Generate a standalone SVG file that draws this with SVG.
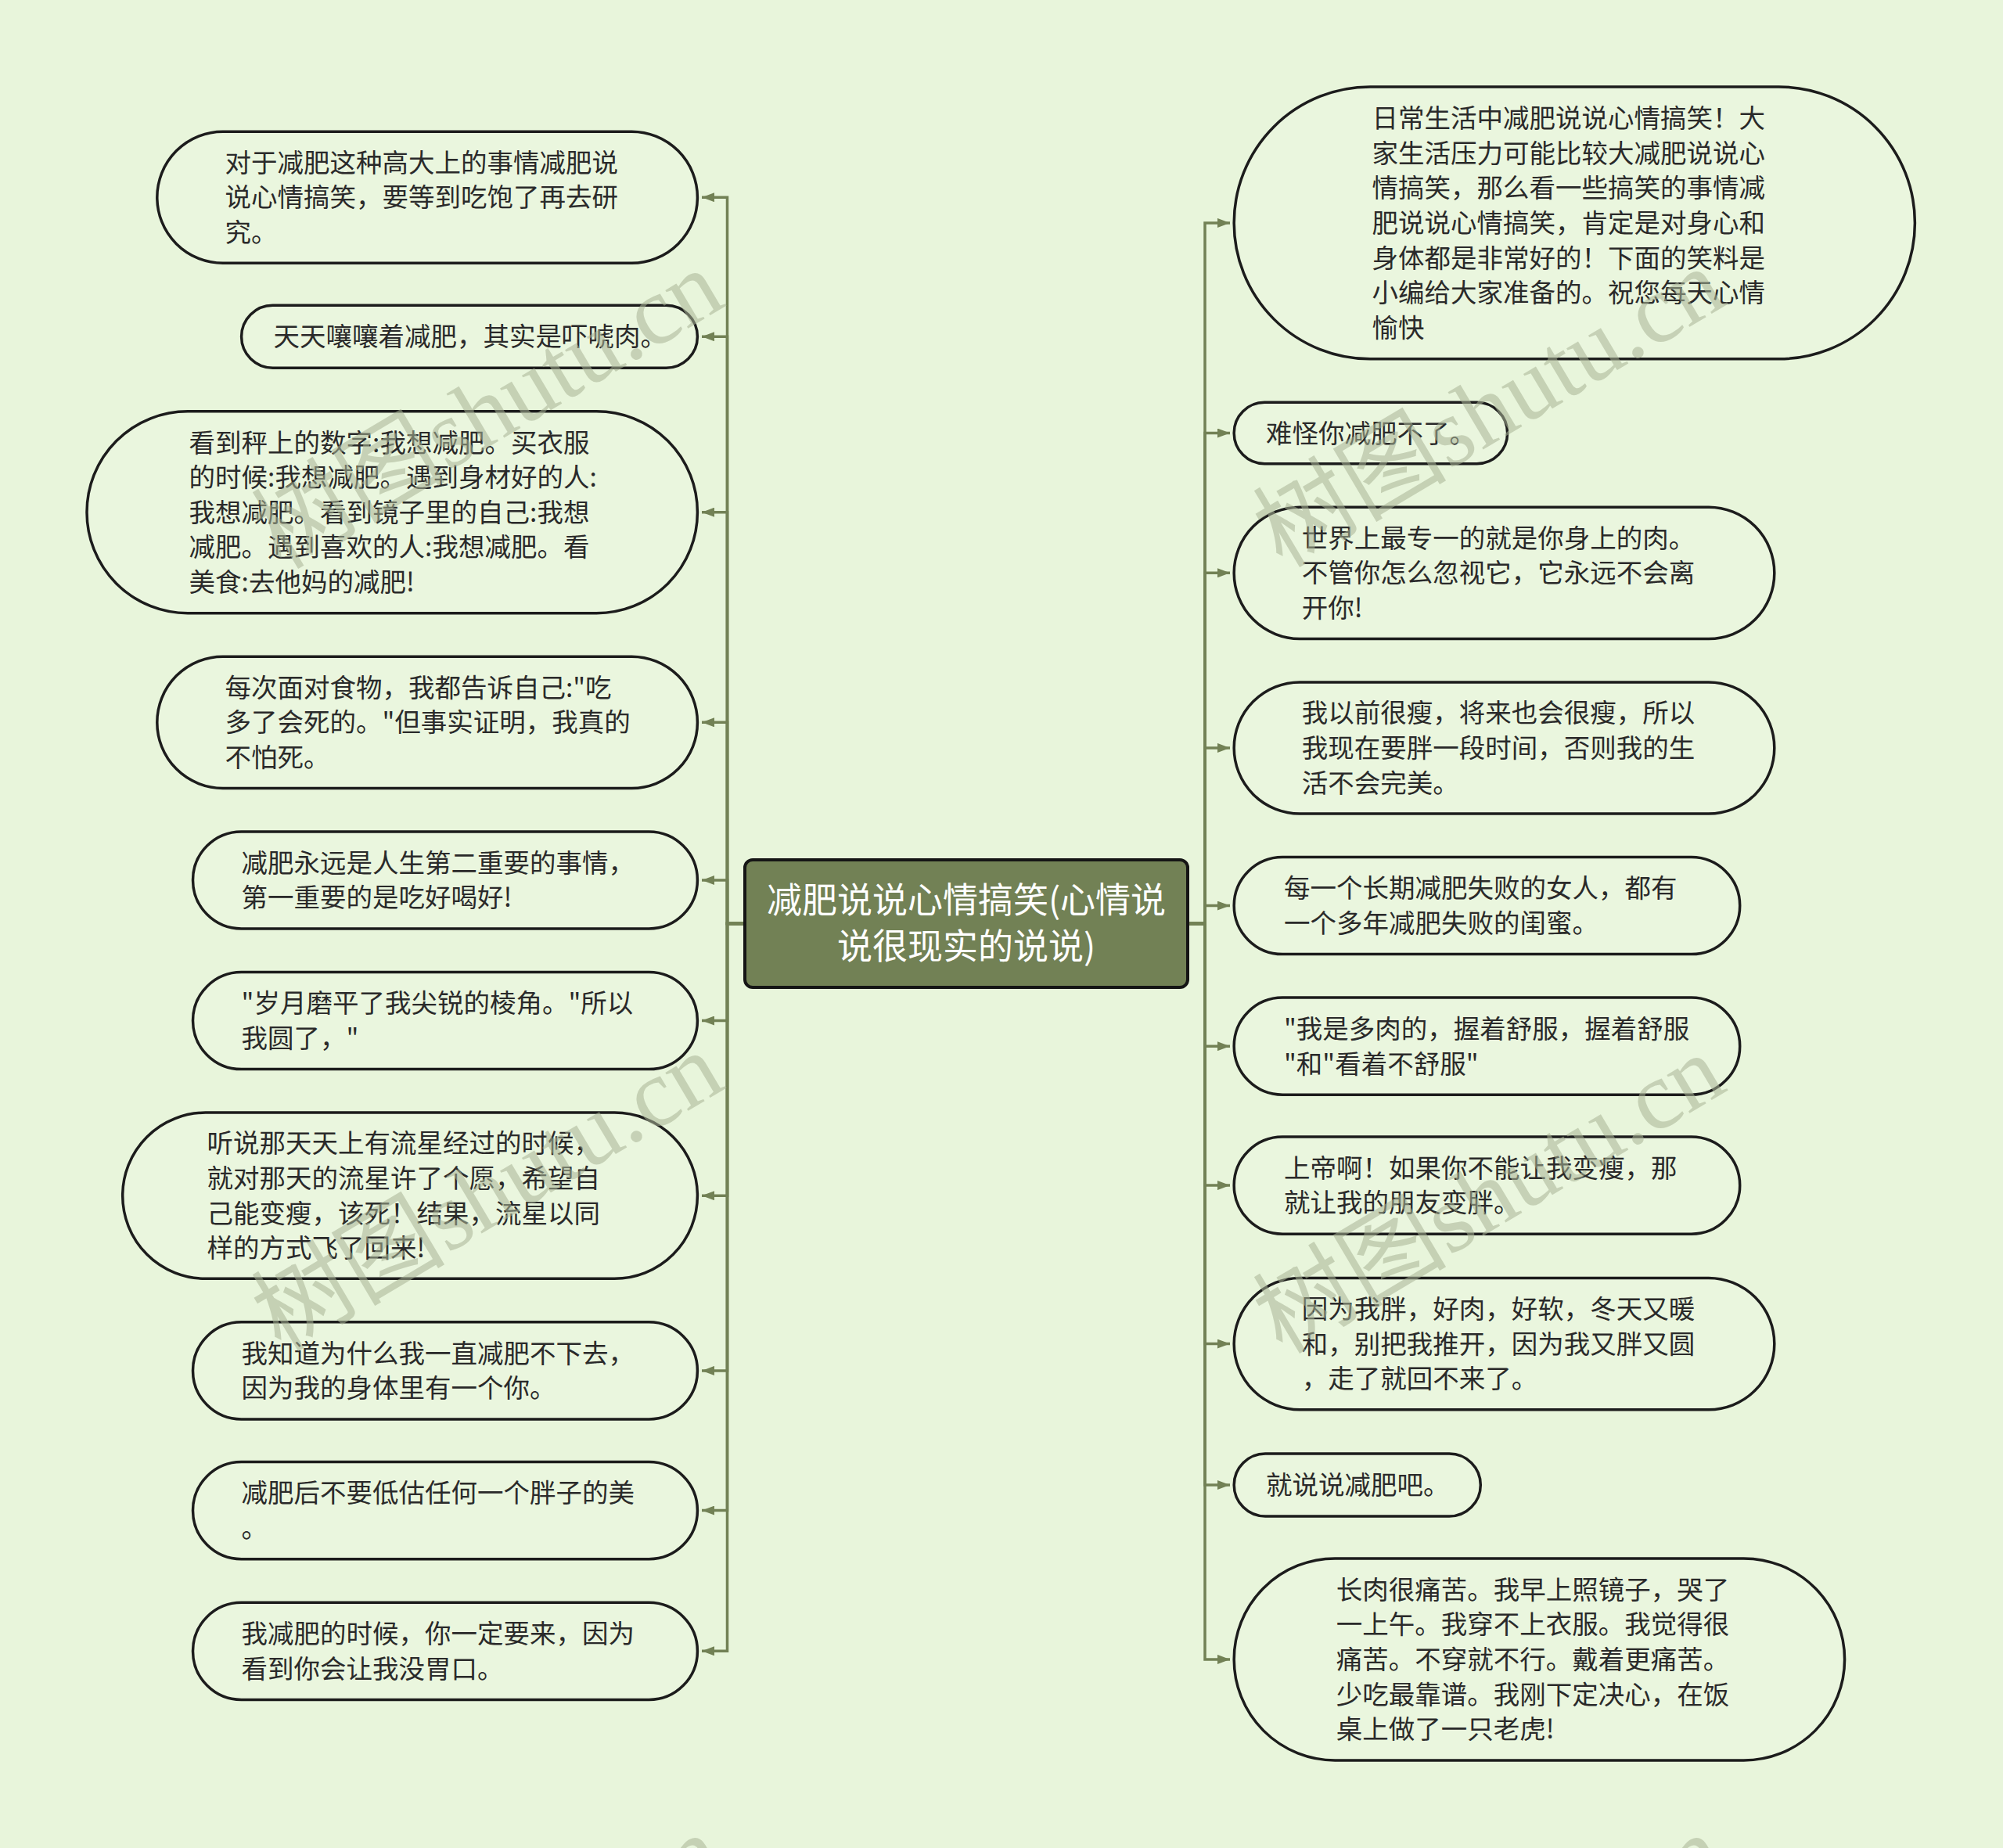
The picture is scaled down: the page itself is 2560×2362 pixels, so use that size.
<svg xmlns="http://www.w3.org/2000/svg" width="2560" height="2362" viewBox="0 0 2560 2362">
<style>
.bg{fill:#e8f5db}
.nd{fill:#eaf6de;stroke:#1c1c1c;stroke-width:3.5}
.t{font-family:"Noto Sans CJK SC","Noto Sans",sans-serif;font-size:33.5px;fill:#2a2a2a}
.ct{font-family:"Noto Sans CJK SC","Noto Sans",sans-serif;font-size:45px;fill:#ffffff;text-anchor:middle}
.cn{fill:#728155;stroke:#151515;stroke-width:4}
.conn{fill:none;stroke:#728155;stroke-width:3.5}
.wm{font-family:"Liberation Serif","Noto Sans CJK SC",serif;font-size:124px;fill:#a9b496;opacity:0.55}
</style>
<defs>
<marker id="ah" viewBox="0 0 16 12" refX="16" refY="6" markerWidth="16" markerHeight="12" markerUnits="userSpaceOnUse" orient="auto">
<path d="M0,0 L16,6 L0,12 z" fill="#728155"/>
</marker>
</defs>
<rect class="bg" x="0" y="0" width="2560" height="2362"/>

<g id="connectors">
<path class="conn" marker-end="url(#ah)" d="M952,1180.5 H929.5 V252.2 H897"/>
<path class="conn" marker-end="url(#ah)" d="M952,1180.5 H929.5 V430.2 H897"/>
<path class="conn" marker-end="url(#ah)" d="M952,1180.5 H929.5 V654.7 H897"/>
<path class="conn" marker-end="url(#ah)" d="M952,1180.5 H929.5 V923.3 H897"/>
<path class="conn" marker-end="url(#ah)" d="M952,1180.5 H929.5 V1125 H897"/>
<path class="conn" marker-end="url(#ah)" d="M952,1180.5 H929.5 V1304.5 H897"/>
<path class="conn" marker-end="url(#ah)" d="M952,1180.5 H929.5 V1528.2 H897"/>
<path class="conn" marker-end="url(#ah)" d="M952,1180.5 H929.5 V1751.9 H897"/>
<path class="conn" marker-end="url(#ah)" d="M952,1180.5 H929.5 V1930.6 H897"/>
<path class="conn" marker-end="url(#ah)" d="M952,1180.5 H929.5 V2110.3 H897"/>
<path class="conn" marker-end="url(#ah)" d="M1518,1180.5 H1540 V284.9 H1572"/>
<path class="conn" marker-end="url(#ah)" d="M1518,1180.5 H1540 V553.5 H1572"/>
<path class="conn" marker-end="url(#ah)" d="M1518,1180.5 H1540 V732.3 H1572"/>
<path class="conn" marker-end="url(#ah)" d="M1518,1180.5 H1540 V955.9 H1572"/>
<path class="conn" marker-end="url(#ah)" d="M1518,1180.5 H1540 V1157.6 H1572"/>
<path class="conn" marker-end="url(#ah)" d="M1518,1180.5 H1540 V1337.2 H1572"/>
<path class="conn" marker-end="url(#ah)" d="M1518,1180.5 H1540 V1515.1 H1572"/>
<path class="conn" marker-end="url(#ah)" d="M1518,1180.5 H1540 V1717.6 H1572"/>
<path class="conn" marker-end="url(#ah)" d="M1518,1180.5 H1540 V1898 H1572"/>
<path class="conn" marker-end="url(#ah)" d="M1518,1180.5 H1540 V2120.9 H1572"/>
</g>

<g id="center">
<rect class="cn" x="952" y="1099" width="566" height="163" rx="10"/>
<text class="ct" x="1235" y="1167">减肥说说心情搞笑(心情说</text>
<text class="ct" x="1235" y="1226">说很现实的说说)</text>
</g>

<g id="L1">
<rect class="nd" x="200.8" y="168.2" width="690.6" height="168.1" rx="84" ry="84"/>
<text class="t" x="287.4" y="219.6">对于减肥这种高大上的事情减肥说</text>
<text class="t" x="287.4" y="264.2">说心情搞笑，要等到吃饱了再去研</text>
<text class="t" x="287.4" y="308.8">究。</text>
</g>
<g id="L2">
<rect class="nd" x="308.6" y="390.2" width="582.8" height="80" rx="40" ry="40"/>
<text class="t" x="349.4" y="442.2">天天嚷嚷着减肥，其实是吓唬肉。</text>
</g>
<g id="L3">
<rect class="nd" x="111" y="525.7" width="780.4" height="258" rx="129" ry="129"/>
<text class="t" x="241.6" y="577.5">看到秤上的数字:我想减肥。买衣服</text>
<text class="t" x="241.6" y="622.1">的时候:我想减肥。遇到身材好的人:</text>
<text class="t" x="241.6" y="666.7">我想减肥。看到镜子里的自己:我想</text>
<text class="t" x="241.6" y="711.3">减肥。遇到喜欢的人:我想减肥。看</text>
<text class="t" x="241.6" y="755.9">美食:去他妈的减肥!</text>
</g>
<g id="L4">
<rect class="nd" x="200.8" y="839.2" width="690.6" height="168.2" rx="84" ry="84"/>
<text class="t" x="287.4" y="890.7">每次面对食物，我都告诉自己:"吃</text>
<text class="t" x="287.4" y="935.3">多了会死的。"但事实证明，我真的</text>
<text class="t" x="287.4" y="979.9">不怕死。</text>
</g>
<g id="L5">
<rect class="nd" x="246.5" y="1062.9" width="644.9" height="124.1" rx="62" ry="62"/>
<text class="t" x="308.6" y="1114.7">减肥永远是人生第二重要的事情，</text>
<text class="t" x="308.6" y="1159.3">第一重要的是吃好喝好!</text>
</g>
<g id="L6">
<rect class="nd" x="246.5" y="1242.5" width="644.9" height="124.1" rx="62" ry="62"/>
<text class="t" x="308.6" y="1294.2">"岁月磨平了我尖锐的棱角。"所以</text>
<text class="t" x="308.6" y="1338.8">我圆了，"</text>
</g>
<g id="L7">
<rect class="nd" x="156.7" y="1422.1" width="734.7" height="212.2" rx="106" ry="106"/>
<text class="t" x="264.5" y="1473.3">听说那天天上有流星经过的时候，</text>
<text class="t" x="264.5" y="1517.9">就对那天的流星许了个愿，希望自</text>
<text class="t" x="264.5" y="1562.5">己能变瘦，该死！结果，流星以同</text>
<text class="t" x="264.5" y="1607.1">样的方式飞了回来!</text>
</g>
<g id="L8">
<rect class="nd" x="246.5" y="1689.8" width="644.9" height="124.1" rx="62" ry="62"/>
<text class="t" x="308.6" y="1741.6">我知道为什么我一直减肥不下去，</text>
<text class="t" x="308.6" y="1786.2">因为我的身体里有一个你。</text>
</g>
<g id="L9">
<rect class="nd" x="246.5" y="1868.6" width="644.9" height="124.1" rx="62" ry="62"/>
<text class="t" x="308.6" y="1920.3">减肥后不要低估任何一个胖子的美</text>
<text class="t" x="308.6" y="1964.9">。</text>
</g>
<g id="L10">
<rect class="nd" x="246.5" y="2048.3" width="644.9" height="124.1" rx="62" ry="62"/>
<text class="t" x="308.6" y="2100">我减肥的时候，你一定要来，因为</text>
<text class="t" x="308.6" y="2144.6">看到你会让我没胃口。</text>
</g>

<g id="R1">
<rect class="nd" x="1577.2" y="111" width="870.2" height="347.8" rx="174" ry="174"/>
<text class="t" x="1753.5" y="163.1">日常生活中减肥说说心情搞笑！大</text>
<text class="t" x="1753.5" y="207.7">家生活压力可能比较大减肥说说心</text>
<text class="t" x="1753.5" y="252.3">情搞笑，那么看一些搞笑的事情减</text>
<text class="t" x="1753.5" y="296.9">肥说说心情搞笑，肯定是对身心和</text>
<text class="t" x="1753.5" y="341.5">身体都是非常好的！下面的笑料是</text>
<text class="t" x="1753.5" y="386.1">小编给大家准备的。祝您每天心情</text>
<text class="t" x="1753.5" y="430.7">愉快</text>
</g>
<g id="R2">
<rect class="nd" x="1577.2" y="514.3" width="349.4" height="78.4" rx="39" ry="39"/>
<text class="t" x="1618" y="565.5">难怪你减肥不了。</text>
</g>
<g id="R3">
<rect class="nd" x="1577.2" y="648.2" width="690.6" height="168.2" rx="84" ry="84"/>
<text class="t" x="1663.7" y="699.7">世界上最专一的就是你身上的肉。</text>
<text class="t" x="1663.7" y="744.3">不管你怎么忽视它，它永远不会离</text>
<text class="t" x="1663.7" y="788.9">开你!</text>
</g>
<g id="R4">
<rect class="nd" x="1577.2" y="871.9" width="690.6" height="168.1" rx="84" ry="84"/>
<text class="t" x="1663.7" y="923.3">我以前很瘦，将来也会很瘦，所以</text>
<text class="t" x="1663.7" y="967.9">我现在要胖一段时间，否则我的生</text>
<text class="t" x="1663.7" y="1012.5">活不会完美。</text>
</g>
<g id="R5">
<rect class="nd" x="1577.2" y="1095.5" width="646.5" height="124.1" rx="62" ry="62"/>
<text class="t" x="1640.9" y="1147.3">每一个长期减肥失败的女人，都有</text>
<text class="t" x="1640.9" y="1191.9">一个多年减肥失败的闺蜜。</text>
</g>
<g id="R6">
<rect class="nd" x="1577.2" y="1275.1" width="646.5" height="124.1" rx="62" ry="62"/>
<text class="t" x="1640.9" y="1326.9">"我是多肉的，握着舒服，握着舒服</text>
<text class="t" x="1640.9" y="1371.5">"和"看着不舒服"</text>
</g>
<g id="R7">
<rect class="nd" x="1577.2" y="1453.1" width="646.5" height="124.1" rx="62" ry="62"/>
<text class="t" x="1640.9" y="1504.8">上帝啊！如果你不能让我变瘦，那</text>
<text class="t" x="1640.9" y="1549.4">就让我的朋友变胖。</text>
</g>
<g id="R8">
<rect class="nd" x="1577.2" y="1633.5" width="690.6" height="168.2" rx="84" ry="84"/>
<text class="t" x="1663.7" y="1685">因为我胖，好肉，好软，冬天又暖</text>
<text class="t" x="1663.7" y="1729.6">和，别把我推开，因为我又胖又圆</text>
<text class="t" x="1663.7" y="1774.2">，走了就回不来了。</text>
</g>
<g id="R9">
<rect class="nd" x="1577.2" y="1858" width="315.1" height="80" rx="40" ry="40"/>
<text class="t" x="1618" y="1910">就说说减肥吧。</text>
</g>
<g id="R10">
<rect class="nd" x="1577.2" y="1991.9" width="780.4" height="258" rx="129" ry="129"/>
<text class="t" x="1707.8" y="2043.7">长肉很痛苦。我早上照镜子，哭了</text>
<text class="t" x="1707.8" y="2088.3">一上午。我穿不上衣服。我觉得很</text>
<text class="t" x="1707.8" y="2132.9">痛苦。不穿就不行。戴着更痛苦。</text>
<text class="t" x="1707.8" y="2177.5">少吃最靠谱。我刚下定决心，在饭</text>
<text class="t" x="1707.8" y="2222.1">桌上做了一只老虎!</text>
</g>

<g id="watermarks">
<text class="wm" transform="translate(388,657) rotate(-30.7)" x="-62" y="47">树图shutu.cn</text>
<text class="wm" transform="translate(1668,655) rotate(-30.7)" x="-62" y="47">树图shutu.cn</text>
<text class="wm" transform="translate(388,1657) rotate(-30.7)" x="-62" y="47">树图shutu.cn</text>
<text class="wm" transform="translate(1668,1660) rotate(-30.7)" x="-62" y="47">树图shutu.cn</text>
<text class="wm" transform="translate(388,2657) rotate(-30.7)" x="-62" y="47">树图shutu.cn</text>
<text class="wm" transform="translate(1668,2657) rotate(-30.7)" x="-62" y="47">树图shutu.cn</text>
</g>
</svg>
